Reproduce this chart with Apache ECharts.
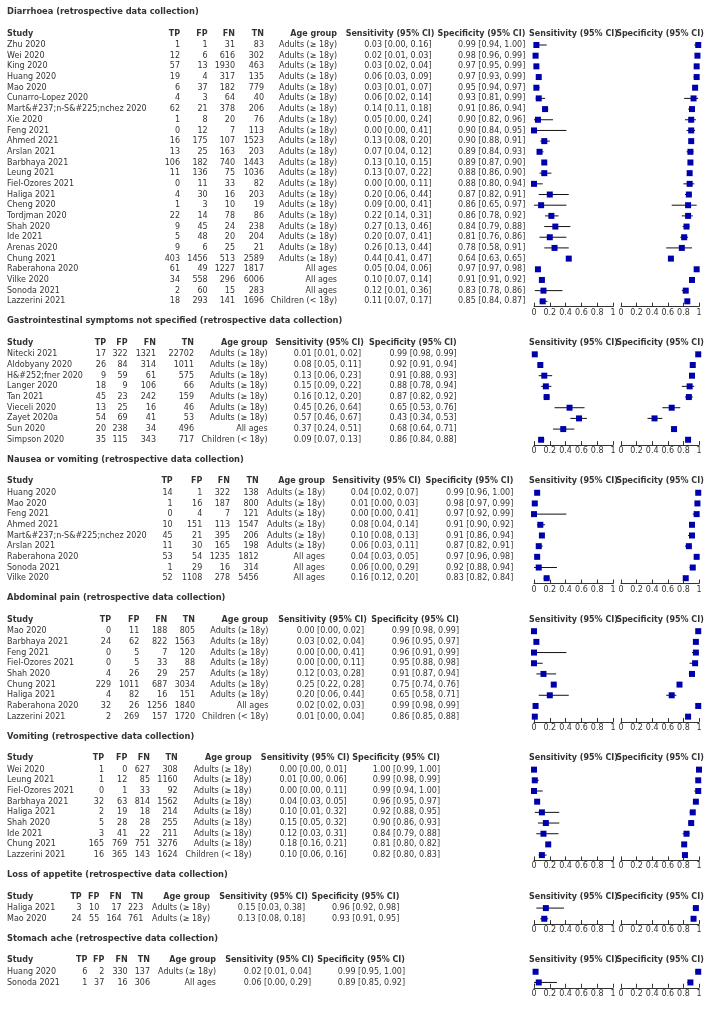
<!DOCTYPE html>
<html>
<head>
<meta charset="utf-8">
<script src="https://cdn.jsdelivr.net/npm/echarts@6/dist/echarts.min.js"></script>
<style>
html,body{margin:0;padding:0;background:#fff;}
#chart{width:707px;height:1026px;}
</style>
</head>
<body>
<div id="chart"></div>
<script>
const ADULT = 'Adults (\u2265 18y)', ALL = 'All ages', CHILD = 'Children (< 18y)';

// ---- Diarrhoea ----
const diarrhoeaStudies = ['Zhu 2020','Wei 2020','King 2020','Huang 2020','Mao 2020','Cunarro-Lopez 2020','Mart&#237;n-S&#225;nchez 2020','Xie 2020','Feng 2021','Ahmed 2021','Arslan 2021','Barbhaya 2021','Leung 2021','Fiel-Ozores 2021','Haliga 2021','Cheng 2020','Tordjman 2020','Shah 2020','Ide 2021','Arenas 2020','Chung 2021','Raberahona 2020','Vilke 2020','Sonoda 2021','Lazzerini 2021'];
const diarrhoeaCounts = [[1,1,31,83],[12,6,616,302],[57,13,1930,463],[19,4,317,135],[6,37,182,779],[4,3,64,40],[62,21,378,206],[1,8,20,76],[0,12,7,113],[16,175,107,1523],[13,25,163,203],[106,182,740,1443],[11,136,75,1036],[0,11,33,82],[4,30,16,203],[1,3,10,19],[22,14,78,86],[9,45,24,238],[5,48,20,204],[9,6,25,21],[403,1456,513,2589],[61,49,1227,1817],[34,558,296,6006],[2,60,15,283],[18,293,141,1696]];
const diarrhoeaAge = [ADULT,ADULT,ADULT,ADULT,ADULT,ADULT,ADULT,ADULT,ADULT,ADULT,ADULT,ADULT,ADULT,ADULT,ADULT,ADULT,ADULT,ADULT,ADULT,ADULT,ADULT,ALL,ALL,ALL,CHILD];
const diarrhoeaSens = [[0.03,0.00,0.16],[0.02,0.01,0.03],[0.03,0.02,0.04],[0.06,0.03,0.09],[0.03,0.01,0.07],[0.06,0.02,0.14],[0.14,0.11,0.18],[0.05,0.00,0.24],[0.00,0.00,0.41],[0.13,0.08,0.20],[0.07,0.04,0.12],[0.13,0.10,0.15],[0.13,0.07,0.22],[0.00,0.00,0.11],[0.20,0.06,0.44],[0.09,0.00,0.41],[0.22,0.14,0.31],[0.27,0.13,0.46],[0.20,0.07,0.41],[0.26,0.13,0.44],[0.44,0.41,0.47],[0.05,0.04,0.06],[0.10,0.07,0.14],[0.12,0.01,0.36],[0.11,0.07,0.17]];
const diarrhoeaSpec = [[0.99,0.94,1.00],[0.98,0.96,0.99],[0.97,0.95,0.99],[0.97,0.93,0.99],[0.95,0.94,0.97],[0.93,0.81,0.99],[0.91,0.86,0.94],[0.90,0.82,0.96],[0.90,0.84,0.95],[0.90,0.88,0.91],[0.89,0.84,0.93],[0.89,0.87,0.90],[0.88,0.86,0.90],[0.88,0.80,0.94],[0.87,0.82,0.91],[0.86,0.65,0.97],[0.86,0.78,0.92],[0.84,0.79,0.88],[0.81,0.76,0.86],[0.78,0.58,0.91],[0.64,0.63,0.65],[0.97,0.97,0.98],[0.91,0.91,0.92],[0.83,0.78,0.86],[0.85,0.84,0.87]];

// ---- Gastrointestinal symptoms not specified ----
const giStudies = ['Nitecki 2021','Aldobyany 2020','H&#252;fner 2020','Langer 2020','Tan 2021','Vieceli 2020','Zayet 2020a','Sun 2020','Simpson 2020'];
const giCounts = [[17,322,1321,22702],[26,84,314,1011],[9,59,61,575],[18,9,106,66],[45,23,242,159],[13,25,16,46],[54,69,41,53],[20,238,34,496],[35,115,343,717]];
const giAge = [ADULT,ADULT,ADULT,ADULT,ADULT,ADULT,ADULT,ALL,CHILD];
const giSens = [[0.01,0.01,0.02],[0.08,0.05,0.11],[0.13,0.06,0.23],[0.15,0.09,0.22],[0.16,0.12,0.20],[0.45,0.26,0.64],[0.57,0.46,0.67],[0.37,0.24,0.51],[0.09,0.07,0.13]];
const giSpec = [[0.99,0.98,0.99],[0.92,0.91,0.94],[0.91,0.88,0.93],[0.88,0.78,0.94],[0.87,0.82,0.92],[0.65,0.53,0.76],[0.43,0.34,0.53],[0.68,0.64,0.71],[0.86,0.84,0.88]];

// ---- Nausea or vomiting ----
const nauseaStudies = ['Huang 2020','Mao 2020','Feng 2021','Ahmed 2021','Mart&#237;n-S&#225;nchez 2020','Arslan 2021','Raberahona 2020','Sonoda 2021','Vilke 2020'];
const nauseaCounts = [[14,1,322,138],[1,16,187,800],[0,4,7,121],[10,151,113,1547],[45,21,395,206],[11,30,165,198],[53,54,1235,1812],[1,29,16,314],[52,1108,278,5456]];
const nauseaAge = [ADULT,ADULT,ADULT,ADULT,ADULT,ADULT,ALL,ALL,ALL];
const nauseaSens = [[0.04,0.02,0.07],[0.01,0.00,0.03],[0.00,0.00,0.41],[0.08,0.04,0.14],[0.10,0.08,0.13],[0.06,0.03,0.11],[0.04,0.03,0.05],[0.06,0.00,0.29],[0.16,0.12,0.20]];
const nauseaSpec = [[0.99,0.96,1.00],[0.98,0.97,0.99],[0.97,0.92,0.99],[0.91,0.90,0.92],[0.91,0.86,0.94],[0.87,0.82,0.91],[0.97,0.96,0.98],[0.92,0.88,0.94],[0.83,0.82,0.84]];

// ---- Abdominal pain ----
const abdoStudies = ['Mao 2020','Barbhaya 2021','Feng 2021','Fiel-Ozores 2021','Shah 2020','Chung 2021','Haliga 2021','Raberahona 2020','Lazzerini 2021'];
const abdoCounts = [[0,11,188,805],[24,62,822,1563],[0,5,7,120],[0,5,33,88],[4,26,29,257],[229,1011,687,3034],[4,82,16,151],[32,26,1256,1840],[2,269,157,1720]];
const abdoAge = [ADULT,ADULT,ADULT,ADULT,ADULT,ADULT,ADULT,ALL,CHILD];
const abdoSens = [[0.00,0.00,0.02],[0.03,0.02,0.04],[0.00,0.00,0.41],[0.00,0.00,0.11],[0.12,0.03,0.28],[0.25,0.22,0.28],[0.20,0.06,0.44],[0.02,0.02,0.03],[0.01,0.00,0.04]];
const abdoSpec = [[0.99,0.98,0.99],[0.96,0.95,0.97],[0.96,0.91,0.99],[0.95,0.88,0.98],[0.91,0.87,0.94],[0.75,0.74,0.76],[0.65,0.58,0.71],[0.99,0.98,0.99],[0.86,0.85,0.88]];

// ---- Vomiting ----
const vomStudies = ['Wei 2020','Leung 2021','Fiel-Ozores 2021','Barbhaya 2021','Haliga 2021','Shah 2020','Ide 2021','Chung 2021','Lazzerini 2021'];
const vomCounts = [[1,0,627,308],[1,12,85,1160],[0,1,33,92],[32,63,814,1562],[2,19,18,214],[5,28,28,255],[3,41,22,211],[165,769,751,3276],[16,365,143,1624]];
const vomAge = [ADULT,ADULT,ADULT,ADULT,ADULT,ADULT,ADULT,ADULT,CHILD];
const vomSens = [[0.00,0.00,0.01],[0.01,0.00,0.06],[0.00,0.00,0.11],[0.04,0.03,0.05],[0.10,0.01,0.32],[0.15,0.05,0.32],[0.12,0.03,0.31],[0.18,0.16,0.21],[0.10,0.06,0.16]];
const vomSpec = [[1.00,0.99,1.00],[0.99,0.98,0.99],[0.99,0.94,1.00],[0.96,0.95,0.97],[0.92,0.88,0.95],[0.90,0.86,0.93],[0.84,0.79,0.88],[0.81,0.80,0.82],[0.82,0.80,0.83]];

// ---- Loss of appetite ----
const appStudies = ['Haliga 2021','Mao 2020'];
const appCounts = [[3,10,17,223],[24,55,164,761]];
const appAge = [ADULT,ADULT];
const appSens = [[0.15,0.03,0.38],[0.13,0.08,0.18]];
const appSpec = [[0.96,0.92,0.98],[0.93,0.91,0.95]];

// ---- Stomach ache ----
const stomStudies = ['Huang 2020','Sonoda 2021'];
const stomCounts = [[6,2,330,137],[1,37,16,306]];
const stomAge = [ADULT,ALL];
const stomSens = [[0.02,0.01,0.04],[0.06,0.00,0.29]];
const stomSpec = [[0.99,0.95,1.00],[0.89,0.85,0.92]];

const axisTicks = [0, 0.2, 0.4, 0.6, 0.8, 1];

// column right edges: TP, FP, FN, TN, Age, Sens values, Spec
const sections = [
  {title:'Diarrhoea (retrospective data collection)', studies:diarrhoeaStudies, counts:diarrhoeaCounts, age:diarrhoeaAge, sens:diarrhoeaSens, spec:diarrhoeaSpec, cols:[180,207.7,235,264,337,431.5,525.3]},
  {title:'Gastrointestinal symptoms not specified (retrospective data collection)', studies:giStudies, counts:giCounts, age:giAge, sens:giSens, spec:giSpec, cols:[106,127.7,156,194,267.7,361,456.7]},
  {title:'Nausea or vomiting (retrospective data collection)', studies:nauseaStudies, counts:nauseaCounts, age:nauseaAge, sens:nauseaSens, spec:nauseaSpec, cols:[172.7,202.3,230,258.7,325,418,513.3]},
  {title:'Abdominal pain (retrospective data collection)', studies:abdoStudies, counts:abdoCounts, age:abdoAge, sens:abdoSens, spec:abdoSpec, cols:[111,139.3,167.3,195,268.3,364,459]},
  {title:'Vomiting (retrospective data collection)', studies:vomStudies, counts:vomCounts, age:vomAge, sens:vomSens, spec:vomSpec, cols:[104,127.3,150,177.7,251.7,346.7,440]},
  {title:'Loss of appetite (retrospective data collection)', studies:appStudies, counts:appCounts, age:appAge, sens:appSens, spec:appSpec, cols:[81.7,99.3,121.7,143.3,210,305,399.3]},
  {title:'Stomach ache (retrospective data collection)', studies:stomStudies, counts:stomCounts, age:stomAge, sens:stomSens, spec:stomSpec, cols:[87.3,104.3,127.7,150,216,311,405]}
];

const ROW = 10.68, T2F = 33, HDR = 11.5, GAP = 20;
const TXT = '#333';
const SENS_L = 534, SENS_W = 79, SPEC_L = 621, SPEC_W = 78;

function txt(text, x, y, align, weight, size) {
  return {type:'text', x:x, y:y, silent:true,
    style:{text:text, fill:TXT, fontFamily:'DejaVu Sans', fontSize:size || 8, fontWeight:weight || 'normal',
      textAlign:align, align:align, textVerticalAlign:'middle', verticalAlign:'middle'}};
}
function fmt(v) { return v[0].toFixed(2) + ' [' + v[1].toFixed(2) + ', ' + v[2].toFixed(2) + ']'; }
function renderCI(params, api) {
  const a = api.coord([api.value(0), api.value(2)]);
  const b = api.coord([api.value(1), api.value(2)]);
  return {type:'line', shape:{x1:a[0], y1:a[1], x2:b[0], y2:b[1]}, style:{stroke:'#111', lineWidth:1}};
}

const grids = [], xAxes = [], yAxes = [], series = [], texts = [];
let y = 12;
sections.forEach(function (s) {
  const n = s.studies.length;
  const first = y + T2F, header = first - HDR, last = first + (n - 1) * ROW;
  const c = s.cols;
  texts.push(txt(s.title, 7, y, 'left', 'bold', 8.3));
  texts.push(txt('Study', 7, header, 'left', 'bold'));
  ['TP','FP','FN','TN','Age group'].forEach(function (h, k) { texts.push(txt(h, c[k], header, 'right', 'bold')); });
  texts.push(txt('Sensitivity (95% CI)', c[5] + 3, header, 'right', 'bold'));
  texts.push(txt('Specificity (95% CI)', c[6], header, 'right', 'bold'));
  texts.push(txt('Sensitivity (95% CI)', SENS_L + SENS_W / 2, header, 'center', 'bold'));
  texts.push(txt('Specificity (95% CI)', SPEC_L + SPEC_W / 2, header, 'center', 'bold'));
  s.studies.forEach(function (name, i) {
    const ry = first + i * ROW;
    texts.push(txt(name, 7, ry, 'left'));
    s.counts[i].forEach(function (v, k) { texts.push(txt(String(v), c[k], ry, 'right')); });
    texts.push(txt(s.age[i], c[4], ry, 'right'));
    texts.push(txt(fmt(s.sens[i]), c[5], ry, 'right'));
    texts.push(txt(fmt(s.spec[i]), c[6], ry, 'right'));
  });
  const top = first - ROW / 2, height = n * ROW;
  [[SENS_L, SENS_W, s.sens], [SPEC_L, SPEC_W, s.spec]].forEach(function (g) {
    const gi = grids.length;
    grids.push({left:g[0], top:top, width:g[1], height:height});
    xAxes.push({gridIndex:gi, type:'value', min:axisTicks[0], max:axisTicks[axisTicks.length-1], interval:axisTicks[1]-axisTicks[0],
      position:'bottom', splitLine:{show:false},
      axisLine:{show:true, onZero:false, lineStyle:{color:'#333', width:1}},
      axisTick:{show:true, inside:true, length:4, lineStyle:{color:'#333'}},
      axisLabel:{show:true, margin:2, fontSize:8, fontFamily:'DejaVu Sans', color:TXT, showMinLabel:true, showMaxLabel:true,
        formatter:function (v) { const t = axisTicks.find(function (a) { return Math.abs(a - v) < 1e-6; }); return t === undefined ? '' : String(t); }}});
    yAxes.push({gridIndex:gi, type:'category', data:s.studies.map(function (_, i) { return String(i); }), inverse:true, show:false});
    series.push({type:'custom', xAxisIndex:gi, yAxisIndex:gi, silent:true, renderItem:renderCI,
      encode:{x:[0,1], y:2}, data:g[2].map(function (v, i) { return [v[1], v[2], i]; })});
    series.push({type:'scatter', xAxisIndex:gi, yAxisIndex:gi, silent:true, symbol:'rect', symbolSize:6, z:5,
      itemStyle:{color:'#0000AA', opacity:1}, data:g[2].map(function (v, i) { return [v[0], i]; })});
  });
  y = last + GAP;
});

const chart = echarts.init(document.getElementById('chart'), null, {renderer:'canvas'});
chart.setOption({
  animation:false,
  backgroundColor:'#fff',
  grid:grids, xAxis:xAxes, yAxis:yAxes, series:series,
  graphic:{elements:texts}
});
</script>
</body>
</html>
